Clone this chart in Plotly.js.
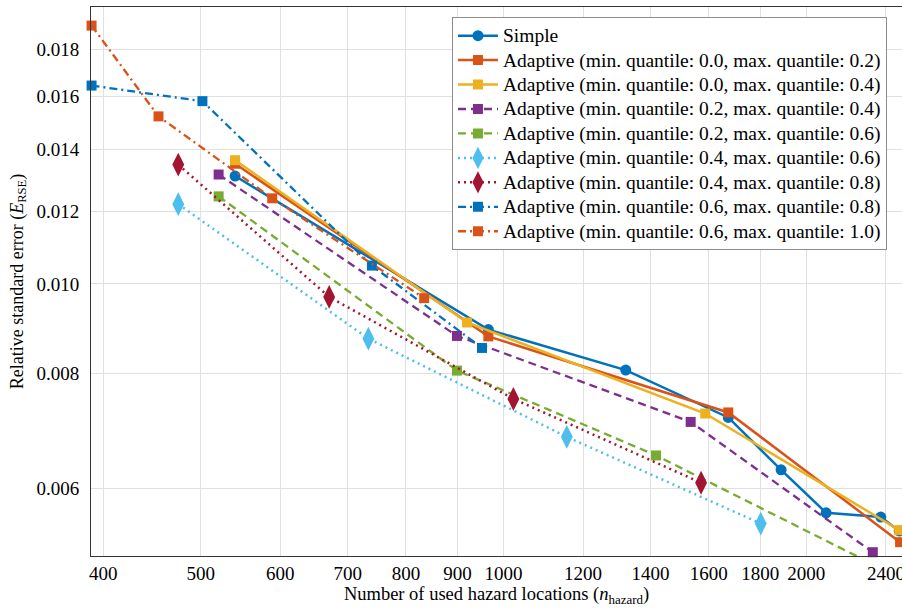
<!DOCTYPE html>
<html>
<head>
<meta charset="utf-8">
<script src="https://cdn.plot.ly/plotly-3.0.1.min.js"></script>
<style>
html,body{margin:0;padding:0;background:#fff;}
#chart{width:902px;height:610px;}
.legendtext{font-size:19.5px !important;}
</style>
</head>
<body>
<div id="chart"></div>
<script>
// ---- data ----
var seriesNames = [
  "Simple",
  "Adaptive (min. quantile: 0.0, max. quantile: 0.2)",
  "Adaptive (min. quantile: 0.0, max. quantile: 0.4)",
  "Adaptive (min. quantile: 0.2, max. quantile: 0.4)",
  "Adaptive (min. quantile: 0.2, max. quantile: 0.6)",
  "Adaptive (min. quantile: 0.4, max. quantile: 0.6)",
  "Adaptive (min. quantile: 0.4, max. quantile: 0.8)",
  "Adaptive (min. quantile: 0.6, max. quantile: 0.8)",
  "Adaptive (min. quantile: 0.6, max. quantile: 1.0)"
];
var simpleX = [541, 966, 1323, 1673, 1888, 2093, 2372, 2474];
var simpleY = [0.01310, 0.00892, 0.00806, 0.00716, 0.00628, 0.00564, 0.00558, 0.00539];
var a00_02X = [541, 966, 1673, 2479];
var a00_02Y = [0.01351, 0.00877, 0.00725, 0.00524];
var a00_04X = [541, 920, 1587, 2474];
var a00_04Y = [0.01363, 0.00908, 0.00723, 0.00540];
var a02_04X = [521, 899, 1535, 2329];
var a02_04Y = [0.01315, 0.00878, 0.00708, 0.00511];
var a02_06X = [521, 899, 1418, 2245];
var a02_06Y = [0.01245, 0.00805, 0.00651, 0.00506];
var a04_06X = [475, 734, 1156, 1802];
var a04_06Y = [0.01221, 0.00872, 0.00682, 0.00549];
var a04_08X = [475, 671, 1023, 1572];
var a04_08Y = [0.01348, 0.00968, 0.00750, 0.00608];
var a06_08X = [389.5, 502, 740, 952];
var a06_08Y = [0.01643, 0.01580, 0.01047, 0.00852];
var a06_10X = [389.5, 454, 589, 834];
var a06_10Y = [0.01909, 0.01521, 0.01239, 0.00965];

var xTickVals = [400, 500, 600, 700, 800, 900, 1000, 1200, 1400, 1600, 1800, 2000, 2400];
var xTickText = ["400", "500", "600", "700", "800", "900", "1000", "1200", "1400", "1600", "1800", "2000", "2400"];
var yTickVals = [0.006, 0.008, 0.010, 0.012, 0.014, 0.016, 0.018];
var yTickText = ["0.006", "0.008", "0.010", "0.012", "0.014", "0.016", "0.018"];

// ---- styling ----
var C = {
  blue: "#0072BD", orange: "#D95319", yellow: "#EDB120", purple: "#7E2F8E",
  green: "#77AC30", lblue: "#4DBEEE", red: "#A2142F"
};
function tr(name, x, y, color, dash, symbol, msize, lw) {
  return {
    type: "scatter", mode: "lines+markers", name: name, x: x, y: y,
    cliponaxis: false,
    line: {color: color, dash: dash, width: lw},
    marker: {color: color, symbol: symbol, size: msize, line: {width: 0}}
  };
}
var dashS = "8px,5px";
var dotS = "2px,4px";
var dashDotS = "8px,4px,2px,4px";
var data = [
  tr(seriesNames[0], simpleX, simpleY, C.blue, "solid", "circle", 11, 2.5),
  tr(seriesNames[1], a00_02X, a00_02Y, C.orange, "solid", "square", 10, 2.5),
  tr(seriesNames[2], a00_04X, a00_04Y, C.yellow, "solid", "square", 10, 2.5),
  tr(seriesNames[3], a02_04X, a02_04Y, C.purple, dashS, "square", 10, 2.3),
  tr(seriesNames[4], a02_06X, a02_06Y, C.green, dashS, "square", 10, 2.3),
  tr(seriesNames[5], a04_06X, a04_06Y, C.lblue, dotS, "diamond-tall", 17, 2.5),
  tr(seriesNames[6], a04_08X, a04_08Y, C.red, dotS, "diamond-tall", 17, 2.5),
  tr(seriesNames[7], a06_08X, a06_08Y, C.blue, dashDotS, "square", 10, 2.3),
  tr(seriesNames[8], a06_10X, a06_10Y, C.orange, dashDotS, "square", 10, 2.3)
];

var FAM = "Liberation Serif";
var layout = {
  width: 902, height: 610,
  margin: {l: 91, r: 0, t: 7, b: 54, pad: 0},
  paper_bgcolor: "#fff", plot_bgcolor: "#fff",
  font: {family: FAM, size: 17, color: "#000"},
  showlegend: true,
  legend: {
    x: 0.4451, y: 0.981, xanchor: "left", yanchor: "top",
    bgcolor: "#fff", bordercolor: "#8c8c8c", borderwidth: 1,
    font: {family: FAM, size: 16.5, color: "#000"},
    itemwidth: 40,
    tracegroupgap: 0
  },
  xaxis: {
    type: "log", range: [Math.log10(389), Math.log10(2490)],
    tickmode: "array", tickvals: xTickVals, ticktext: xTickText,
    showgrid: true, gridcolor: "#e0e0e0", gridwidth: 1,
    showline: true, linecolor: "#333", linewidth: 1, mirror: true,
    ticks: "", zeroline: false, ticklabelstandoff: 0, ticklabeloverflow: "allow",
    tickfont: {family: FAM, size: 19, color: "#000"},
    title: {text: "Number of used hazard locations (<i>n</i><sub>hazard</sub>)", font: {family: FAM, size: 18.5, color: "#000"}, standoff: 4}
  },
  yaxis: {
    type: "log", range: [-2.2957, -1.699],
    tickmode: "array", tickvals: yTickVals, ticktext: yTickText,
    showgrid: true, gridcolor: "#e0e0e0", gridwidth: 1,
    showline: true, linecolor: "#333", linewidth: 1, mirror: false,
    ticks: "", zeroline: false, ticklabelstandoff: 7, ticklabeloverflow: "allow",
    tickfont: {family: FAM, size: 19, color: "#000"},
    title: {text: "Relative standard error (<i>E</i><sub>RSE</sub>)", font: {family: FAM, size: 18, color: "#000"}, standoff: 8}
  }
};
Plotly.newPlot("chart", data, layout, {staticPlot: true, displayModeBar: false});
</script>
</body>
</html>
